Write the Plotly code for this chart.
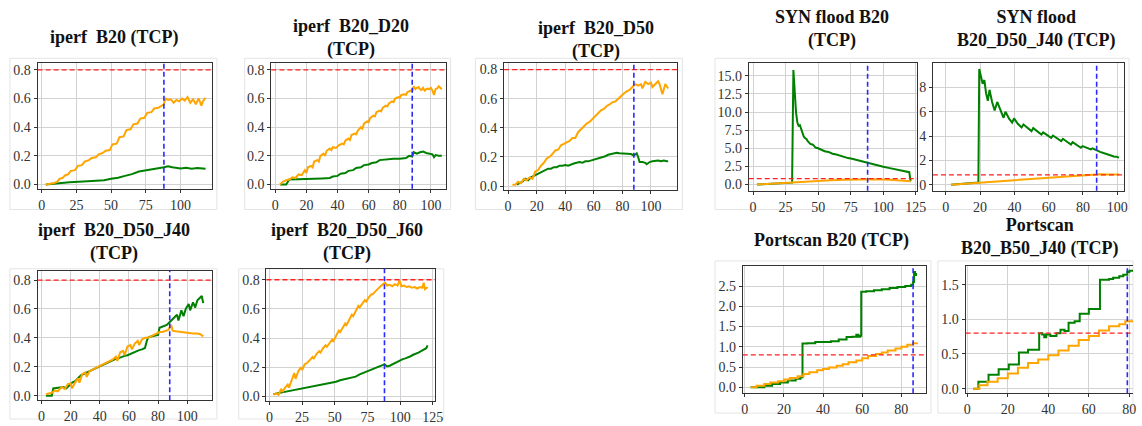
import plotly.graph_objects as go

W, H = 1142, 426

# ---------------- DATA ----------------
TITLES = [
    "iperf  B20 (TCP)",
    "iperf  B20_D20<br>(TCP)",
    "iperf  B20_D50<br>(TCP)",
    "SYN flood B20<br>(TCP)",
    "SYN flood<br>B20_D50_J40 (TCP)",
    "iperf  B20_D50_J40<br>(TCP)",
    "iperf  B20_D50_J60<br>(TCP)",
    "Portscan B20 (TCP)",
    "Portscan<br>B20_B50_J40 (TCP)",
]

THRESHOLD = [0.8, 0.8, 0.8, 0.8, 0.8, 0.8, 0.8, 0.8, 0.8]
VLINE_X = [88, 88, 88, 88, 88, 88, 88, 86, 79]

X_TICKS = [
    [0, 25, 50, 75, 100],
    [0, 20, 40, 60, 80, 100],
    [0, 20, 40, 60, 80, 100],
    [0, 25, 50, 75, 100, 125],
    [0, 20, 40, 60, 80, 100],
    [0, 20, 40, 60, 80, 100],
    [0, 25, 50, 75, 100, 125],
    [0, 20, 40, 60, 80],
    [0, 20, 40, 60, 80],
]
Y_TICKS = [
    [0.0, 0.2, 0.4, 0.6, 0.8],
    [0.0, 0.2, 0.4, 0.6, 0.8],
    [0.0, 0.2, 0.4, 0.6, 0.8],
    [0.0, 2.5, 5.0, 7.5, 10.0, 12.5, 15.0],
    [0, 2, 4, 6, 8],
    [0.0, 0.2, 0.4, 0.6, 0.8],
    [0.0, 0.2, 0.4, 0.6, 0.8],
    [0.0, 0.5, 1.0, 1.5, 2.0, 2.5],
    [0.0, 0.5, 1.0, 1.5],
]
Y_FMT = [".1f", ".1f", ".1f", ".1f", "d", ".1f", ".1f", ".1f", ".1f"]

X_RANGE = [[-2.9, 122.6], [-2.5, 109.5], [-2.8, 118.5], [-3.3, 126.0], [-7.5, 104.0],
           [-2.7, 117.0], [-2.3, 126.5], [-1.0, 92.6], [-0.8, 81.8]]
Y_RANGE = [[-0.03, 0.846], [-0.03, 0.846], [-0.025, 0.843], [-0.86, 16.74], [-0.5, 9.98],
           [-0.032, 0.864], [-0.034, 0.875], [-0.15, 3.0], [-0.067, 1.77]]

# Panel 1: iperf B20
P1_OR_X = [3, 6, 9, 11, 13, 15, 17, 19, 21, 24, 26, 29, 31, 34, 36, 39, 41, 44, 46, 49, 51, 54, 56, 59,
           61, 64, 66, 69, 71, 74, 76, 79, 81, 84, 87, 88, 89, 91, 93, 95, 97, 99, 101, 103, 105, 107,
           109, 111, 113, 115, 116, 118]
P1_OR_Y = [0.0, 0.003, 0.01, 0.018, 0.04, 0.045, 0.065, 0.07, 0.095, 0.10, 0.13, 0.135, 0.16, 0.17,
           0.185, 0.19, 0.21, 0.22, 0.235, 0.24, 0.28, 0.285, 0.33, 0.335, 0.38, 0.385, 0.42, 0.425,
           0.46, 0.465, 0.50, 0.505, 0.53, 0.535, 0.55, 0.56, 0.60, 0.59, 0.595, 0.57, 0.59, 0.58, 0.60,
           0.585, 0.61, 0.57, 0.595, 0.56, 0.60, 0.55, 0.58, 0.605]
P1_GR_X = [3, 10, 20, 30, 40, 45, 50, 55, 60, 65, 70, 75, 80, 85, 88, 91, 94, 97, 100, 104, 108, 112,
           115, 118]
P1_GR_Y = [0.0, 0.008, 0.015, 0.02, 0.027, 0.03, 0.04, 0.047, 0.06, 0.072, 0.09, 0.10, 0.11, 0.115,
           0.12, 0.127, 0.12, 0.115, 0.112, 0.116, 0.11, 0.115, 0.11, 0.11]

# Panel 2: iperf B20_D20
P2_OR_X = [3, 5, 7, 9, 11, 13, 15, 17, 19, 20, 21, 23, 24, 25, 27, 28, 29, 31, 32, 33, 35, 36, 37, 39,
           41, 43, 44, 45, 47, 48, 49, 51, 52, 53, 55, 56, 57, 59, 60, 61, 63, 64, 65, 67, 68, 69, 71,
           72, 73, 75, 76, 77, 79, 80, 81, 83, 84, 85, 87, 88, 89, 90, 91, 92, 93, 94, 95, 96, 97, 98,
           99, 100, 101, 102, 103, 104, 105, 106, 107]
P2_OR_Y = [0.0, 0.02, 0.03, 0.035, 0.05, 0.045, 0.07, 0.065, 0.10, 0.08, 0.12, 0.13, 0.12, 0.16, 0.17,
           0.16, 0.20, 0.215, 0.20, 0.235, 0.25, 0.24, 0.26, 0.255, 0.275, 0.285, 0.28, 0.305, 0.32,
           0.31, 0.345, 0.355, 0.35, 0.375, 0.40, 0.39, 0.425, 0.44, 0.435, 0.465, 0.48, 0.475, 0.505,
           0.515, 0.51, 0.535, 0.55, 0.545, 0.565, 0.58, 0.575, 0.60, 0.61, 0.605, 0.625, 0.63, 0.625,
           0.645, 0.655, 0.65, 0.685, 0.665, 0.675, 0.68, 0.665, 0.66, 0.675, 0.655, 0.665, 0.67, 0.665,
           0.675, 0.655, 0.625, 0.665, 0.67, 0.685, 0.675, 0.665]
P2_GR_X = [3, 7, 9, 15, 20, 25, 30, 35, 37, 40, 42, 45, 47, 50, 52, 55, 57, 60, 62, 65, 67, 70, 73, 76,
           80, 84, 86, 88, 89, 91, 93, 95, 97, 99, 101, 102, 103, 105, 107]
P2_GR_Y = [0.0, 0.0, 0.035, 0.035, 0.037, 0.04, 0.042, 0.045, 0.055, 0.06, 0.075, 0.08, 0.095, 0.10,
           0.115, 0.12, 0.135, 0.14, 0.15, 0.155, 0.17, 0.175, 0.18, 0.18, 0.18, 0.185, 0.20, 0.195,
           0.225, 0.215, 0.225, 0.23, 0.22, 0.215, 0.21, 0.19, 0.205, 0.20, 0.20]

# Panel 3: iperf B20_D50
P3_OR_X = [3, 5, 7, 9, 11, 13, 15, 17, 19, 21, 23, 25, 27, 29, 31, 33, 35, 37, 39, 41, 43, 45, 47, 49,
           51, 53, 55, 57, 59, 61, 63, 65, 67, 69, 71, 73, 75, 77, 79, 81, 83, 85, 87, 89, 91, 93, 94,
           96, 98, 100, 101, 103, 105, 106, 108, 110, 112]
P3_OR_Y = [0.01, 0.01, 0.03, 0.02, 0.05, 0.04, 0.06, 0.05, 0.10, 0.11, 0.14, 0.16, 0.19, 0.20, 0.22,
           0.245, 0.25, 0.28, 0.29, 0.30, 0.31, 0.33, 0.33, 0.37, 0.39, 0.41, 0.43, 0.44, 0.46, 0.48,
           0.50, 0.52, 0.53, 0.55, 0.56, 0.575, 0.58, 0.60, 0.62, 0.635, 0.65, 0.66, 0.68, 0.70, 0.69,
           0.70, 0.67, 0.715, 0.70, 0.71, 0.68, 0.70, 0.72, 0.70, 0.63, 0.70, 0.67]
P3_GR_X = [6, 8, 10, 12, 14, 16, 18, 20, 22, 24, 26, 28, 30, 32, 34, 36, 38, 40, 42, 44, 46, 48, 50, 52,
           54, 56, 58, 60, 62, 64, 66, 68, 70, 72, 74, 76, 78, 80, 82, 84, 86, 88, 89, 90, 91, 92, 94,
           96, 97, 99, 101, 103, 105, 107, 109, 111, 112]
P3_GR_Y = [0.01, 0.02, 0.03, 0.05, 0.04, 0.06, 0.07, 0.08, 0.09, 0.10, 0.11, 0.12, 0.12, 0.13, 0.13,
           0.14, 0.14, 0.145, 0.14, 0.15, 0.155, 0.16, 0.165, 0.16, 0.17, 0.17, 0.175, 0.18, 0.185,
           0.19, 0.195, 0.205, 0.215, 0.22, 0.225, 0.228, 0.225, 0.225, 0.222, 0.222, 0.22, 0.21, 0.22,
           0.225, 0.20, 0.165, 0.165, 0.16, 0.15, 0.165, 0.17, 0.175, 0.175, 0.17, 0.175, 0.17, 0.17]

# Panel 4: SYN flood B20
P4_OR_X = [3, 10, 20, 30, 40, 50, 60, 70, 80, 88, 95, 105, 115, 121]
P4_OR_Y = [0.0, 0.08, 0.18, 0.30, 0.42, 0.52, 0.60, 0.66, 0.72, 0.75, 0.72, 0.66, 0.57, 0.45]
P4_GR_X = [3, 10, 20, 29, 30, 31, 32, 33, 34, 35, 36, 37, 38, 39, 40, 41, 42, 44, 46, 48, 50, 52, 55,
           58, 61, 64, 67, 70, 73, 76, 80, 84, 88, 92, 96, 100, 104, 108, 112, 116, 119, 120, 121]
P4_GR_Y = [0.0, 0.06, 0.15, 0.24, 0.26, 15.8, 12.0, 10.0, 8.6, 8.1, 8.2, 7.6, 7.2, 6.6, 6.4, 6.3, 6.0,
           5.6, 5.5, 5.1, 5.0, 4.8, 4.6, 4.5, 4.25, 4.15, 3.95, 3.8, 3.65, 3.55, 3.35, 3.2, 3.05, 2.85,
           2.65, 2.45, 2.3, 2.15, 2.0, 1.85, 1.75, 1.7, 0.45]

# Panel 5: SYN flood B20_D50_J40
P5_OR_X = [3, 10, 20, 30, 40, 50, 60, 70, 80, 88, 90, 95, 101]
P5_OR_Y = [0.0, 0.07, 0.18, 0.28, 0.37, 0.47, 0.57, 0.66, 0.75, 0.82, 0.86, 0.84, 0.83]
P5_GR_X = [3, 10, 19, 19.5, 20.5, 21.5, 22.5, 23.5, 24.5, 25.5, 27, 28.5, 30, 32, 33.7, 34.8, 37, 38.7,
           39.8, 42, 44.2, 45.3, 48, 50, 51, 54, 55.8, 56.8, 59.5, 61.5, 62.5, 65, 67.3, 68.3, 71, 73,
           74, 76.5, 78.8, 79.8, 82.5, 84.6, 85.6, 88, 90, 92, 94, 96, 98, 99.5, 101]
P5_GR_Y = [0.0, 0.07, 0.17, 9.5, 9.0, 8.3, 8.6, 7.5, 6.9, 7.8, 6.8, 6.1, 6.8, 6.0, 5.5, 6.0, 5.4, 5.1,
           5.45, 5.0, 4.7, 4.95, 4.6, 4.4, 4.65, 4.3, 4.12, 4.3, 4.0, 3.85, 4.04, 3.8, 3.58, 3.77, 3.5,
           3.3, 3.5, 3.25, 3.03, 3.17, 3.0, 2.9, 2.98, 2.8, 2.7, 2.6, 2.5, 2.42, 2.32, 2.3, 2.22]

# Panel 6: iperf B20_D50_J40
P6_OR_X = [3, 5, 7, 9, 11, 13, 14, 16, 18, 20, 21, 23, 25, 26, 28, 30, 31, 33, 35, 37, 39, 41, 43, 45,
           47, 49, 51, 52, 54, 56, 57, 59, 61, 62, 64, 66, 67, 69, 71, 73, 75, 77, 79, 81, 83, 85, 87,
           89, 90, 92, 95, 98, 101, 104, 107, 109, 111]
P6_OR_Y = [0.01, 0.015, 0.02, 0.035, 0.03, 0.05, 0.06, 0.045, 0.08, 0.085, 0.05, 0.09, 0.12, 0.09,
           0.15, 0.16, 0.13, 0.17, 0.18, 0.19, 0.20, 0.21, 0.22, 0.23, 0.24, 0.25, 0.27, 0.24, 0.30,
           0.31, 0.28, 0.34, 0.35, 0.32, 0.36, 0.38, 0.35, 0.39, 0.40, 0.40, 0.41, 0.42, 0.43, 0.44,
           0.44, 0.45, 0.455, 0.49, 0.45, 0.445, 0.44, 0.435, 0.435, 0.43, 0.43, 0.425, 0.41]
P6_GR_X = [3, 7, 8, 12, 15, 17, 19, 21, 23, 25, 27, 29, 31, 33, 35, 37, 39, 41, 43, 45, 47, 49, 51, 53,
           55, 57, 59, 61, 63, 65, 67, 69, 71, 72, 73, 75, 78, 80, 81, 83, 86, 88, 90, 92, 93, 94, 96,
           97.5, 99, 101, 102, 104, 105.5, 107, 109, 110, 111]
P6_GR_Y = [0.0, 0.0, 0.05, 0.055, 0.06, 0.05, 0.07, 0.09, 0.10, 0.12, 0.14, 0.15, 0.16, 0.17, 0.18,
           0.19, 0.20, 0.21, 0.215, 0.225, 0.235, 0.245, 0.255, 0.26, 0.27, 0.275, 0.28, 0.29, 0.30,
           0.31, 0.315, 0.32, 0.33, 0.37, 0.40, 0.41, 0.415, 0.42, 0.47, 0.48, 0.49, 0.51, 0.53, 0.55,
           0.56, 0.52, 0.59, 0.55, 0.60, 0.635, 0.59, 0.645, 0.61, 0.66, 0.68, 0.69, 0.64]

# Panel 7: iperf B20_D50_J60
P7_OR_X = [3, 5, 7, 9, 10, 12, 14, 15, 17, 19, 20, 22, 24, 25, 27, 29, 31, 33, 34, 36, 38, 39, 41, 43,
           44, 46, 48, 49, 51, 53, 54, 56, 58, 59, 61, 63, 64, 66, 68, 69, 71, 73, 74, 76, 78, 79, 81,
           83, 85, 87, 88.5, 90, 92, 94, 96, 98, 99.5, 101, 103, 105, 107, 109, 111, 113, 115, 117,
           118, 119, 121]
P7_OR_Y = [0.01, 0.02, 0.01, 0.05, 0.03, 0.06, 0.08, 0.06, 0.11, 0.16, 0.12, 0.17, 0.20, 0.18, 0.22,
           0.23, 0.25, 0.27, 0.26, 0.29, 0.31, 0.30, 0.33, 0.35, 0.34, 0.37, 0.39, 0.38, 0.42, 0.45,
           0.44, 0.47, 0.50, 0.49, 0.53, 0.56, 0.55, 0.59, 0.62, 0.61, 0.64, 0.66, 0.65, 0.68, 0.70,
           0.70, 0.72, 0.74, 0.755, 0.77, 0.78, 0.76, 0.765, 0.755, 0.77, 0.76, 0.795, 0.755, 0.76,
           0.75, 0.755, 0.745, 0.75, 0.74, 0.75, 0.745, 0.78, 0.735, 0.75]
P7_GR_X = [3, 6, 9, 12, 15, 18, 21, 24, 27, 30, 33, 36, 39, 42, 45, 48, 51, 54, 57, 60, 63, 66, 69, 72,
           75, 78, 81, 84, 87, 88, 90, 92, 94, 96, 98, 100, 102, 104, 106, 108, 110, 112, 114, 116, 118,
           120, 121]
P7_GR_Y = [0.015, 0.02, 0.03, 0.035, 0.04, 0.045, 0.05, 0.055, 0.06, 0.065, 0.07, 0.075, 0.08, 0.085,
           0.09, 0.095, 0.10, 0.11, 0.115, 0.12, 0.125, 0.135, 0.15, 0.16, 0.17, 0.18, 0.19, 0.20,
           0.215, 0.22, 0.205, 0.21, 0.22, 0.23, 0.235, 0.245, 0.255, 0.26, 0.265, 0.275, 0.285, 0.29,
           0.30, 0.31, 0.32, 0.33, 0.35]

# Panel 8: Portscan B20 (step series)
P8_OR_X = [3, 6, 10, 13, 17, 20, 23, 27, 30, 33, 37, 40, 43, 47, 50, 53, 57, 60, 63, 67, 70, 73, 77,
           80, 83, 86, 88]
P8_OR_Y = [0.0, 0.04, 0.08, 0.12, 0.15, 0.19, 0.23, 0.27, 0.33, 0.37, 0.42, 0.45, 0.49, 0.53, 0.57,
           0.62, 0.66, 0.72, 0.77, 0.82, 0.86, 0.91, 0.96, 1.0, 1.05, 1.09, 1.10]
P8_GR_X = [3, 10, 14, 18, 22, 26, 28.5, 29.5, 32, 36, 40, 44, 48, 52, 55, 57, 58, 59, 59.5, 62, 66, 70,
           74, 78, 82, 85, 86, 86.5, 87, 87.5]
P8_GR_Y = [0.0, 0.04, 0.08, 0.12, 0.17, 0.21, 0.25, 1.08, 1.09, 1.12, 1.12, 1.14, 1.18, 1.24, 1.25,
           1.30, 1.25, 1.27, 2.36, 2.37, 2.40, 2.42, 2.45, 2.48, 2.50, 2.53, 2.60, 2.85, 2.80, 2.75]

# Panel 9: Portscan B20_B50_J40 (step series)
P9_OR_X = [3, 6, 10, 15, 20, 25, 30, 35, 40, 45, 50, 55, 60, 65, 70, 75, 78, 82]
P9_OR_Y = [0.0, 0.05, 0.10, 0.15, 0.22, 0.30, 0.37, 0.42, 0.48, 0.55, 0.62, 0.70, 0.76, 0.84, 0.90,
           0.93, 0.97, 0.97]
P9_GR_X = [3, 5.5, 10.5, 15.5, 20.5, 25.5, 30, 35.5, 37, 38, 39, 41, 44, 46, 48, 50, 53, 55.5, 60,
           65.5, 70, 72, 75, 77, 79, 80, 82]
P9_GR_Y = [0.0, 0.10, 0.20, 0.28, 0.35, 0.52, 0.56, 0.80, 0.78, 0.74, 0.78, 0.76, 0.80, 0.85, 0.83,
           0.95, 0.97, 1.08, 1.15, 1.57, 1.58, 1.60, 1.62, 1.64, 1.68, 1.70, 1.70]

SERIES = [
    (P1_OR_X, P1_OR_Y, P1_GR_X, P1_GR_Y, "linear"),
    (P2_OR_X, P2_OR_Y, P2_GR_X, P2_GR_Y, "linear"),
    (P3_OR_X, P3_OR_Y, P3_GR_X, P3_GR_Y, "linear"),
    (P4_OR_X, P4_OR_Y, P4_GR_X, P4_GR_Y, "linear"),
    (P5_OR_X, P5_OR_Y, P5_GR_X, P5_GR_Y, "linear"),
    (P6_OR_X, P6_OR_Y, P6_GR_X, P6_GR_Y, "linear"),
    (P7_OR_X, P7_OR_Y, P7_GR_X, P7_GR_Y, "linear"),
    (P8_OR_X, P8_OR_Y, P8_GR_X, P8_GR_Y, "hv"),
    (P9_OR_X, P9_OR_Y, P9_GR_X, P9_GR_Y, "hv"),
]

# ---------------- LAYOUT (pixels) ----------------
# plot areas: (left, right, top, bottom)
BOXES = [
    (36, 212, 63, 190), (272, 448, 63, 190), (507, 682, 63, 191),
    (754, 924, 63, 192), (940, 1133, 63, 192),
    (36, 212, 273, 404), (267, 437, 271, 405),
    (748, 933, 268, 397), (973, 1142, 268, 397),
]
# title (center x, first line center y)
TITLE_POS = [(113, 36), (352, 25), (600, 27), (838, 16), (1045, 16),
             (113, 232), (348, 232), (838, 242), (1048, 227)]
# faint figure frames (left, right, top, bottom)
FRAMES = [(8, 217, 58, 211), (245, 453, 58, 211), (478, 687, 58, 211), (720, 1138, 58, 211),
          (8, 217, 271, 423), (239, 446, 271, 423), (720, 938, 263, 417), (945, 1142, 263, 417)]

ORANGE = "#FFA500"
GREEN = "#008000"
FONT = "Liberation Serif"


def fx(px):
    return px / W


def fy(py):
    return 1 - py / H


fig = go.Figure()
shapes = []
annotations = []
layout = {}

for i, box in enumerate(BOXES):
    n = i + 1
    sfx = "" if n == 1 else str(n)
    xa, ya = "x" + sfx, "y" + sfx
    ox, oy, gx, gy, shape = SERIES[i]
    fig.add_trace(go.Scatter(x=gx, y=gy, mode="lines", line=dict(color=GREEN, width=2, shape=shape),
                             xaxis=xa, yaxis=ya, showlegend=False, hoverinfo="skip"))
    fig.add_trace(go.Scatter(x=ox, y=oy, mode="lines", line=dict(color=ORANGE, width=2, shape=shape),
                             xaxis=xa, yaxis=ya, showlegend=False, hoverinfo="skip"))
    l, r, t, b = box
    common = dict(showgrid=True, gridcolor="#d2d2d2", gridwidth=1, zeroline=False,
                  showline=True, linecolor="#333333", linewidth=1,
                  ticks="outside", ticklen=3, tickcolor="#333333", tickwidth=1,
                  tickfont=dict(family=FONT, size=14, color="#333333"))
    layout["xaxis" + sfx] = dict(domain=[fx(l), fx(r)], range=X_RANGE[i], anchor=ya,
                                 tickvals=X_TICKS[i], mirror=True, **common)
    layout["yaxis" + sfx] = dict(domain=[fy(b), fy(t)], range=Y_RANGE[i], anchor=xa,
                                 tickvals=Y_TICKS[i], tickformat=Y_FMT[i],
                                 mirror=(n != 9), **common)
    shapes.append(dict(type="line", xref=xa + " domain", yref=ya, x0=0, x1=1,
                       y0=THRESHOLD[i], y1=THRESHOLD[i],
                       line=dict(color="#ff2020", width=1.3, dash="5px,3px")))
    shapes.append(dict(type="line", xref=xa, yref=ya + " domain", x0=VLINE_X[i], x1=VLINE_X[i],
                       y0=0, y1=1, line=dict(color="#2a2aff", width=1.6, dash="5px,3px")))
    tx, ty = TITLE_POS[i]
    annotations.append(dict(text="<b>" + TITLES[i] + "</b>", x=fx(tx), y=fy(ty - 12),
                            xref="paper", yref="paper", xanchor="center", yanchor="top",
                            showarrow=False, align="center",
                            font=dict(family=FONT, size=18, color="#111111")))

for (l, r, t, b) in FRAMES:
    shapes.append(dict(type="rect", xref="paper", yref="paper", x0=fx(l), x1=fx(r), y0=fy(b), y1=fy(t),
                       line=dict(color="#e4e4e4", width=1), fillcolor="rgba(0,0,0,0)", layer="below"))

fig.update_layout(width=W, height=H, margin=dict(l=0, r=0, t=0, b=0),
                  paper_bgcolor="white", plot_bgcolor="white",
                  shapes=shapes, annotations=annotations, **layout)

fig.write_html("out.html", config={"displayModeBar": False},
               post_script="document.body.style.margin='0';document.body.style.overflow='hidden';")
